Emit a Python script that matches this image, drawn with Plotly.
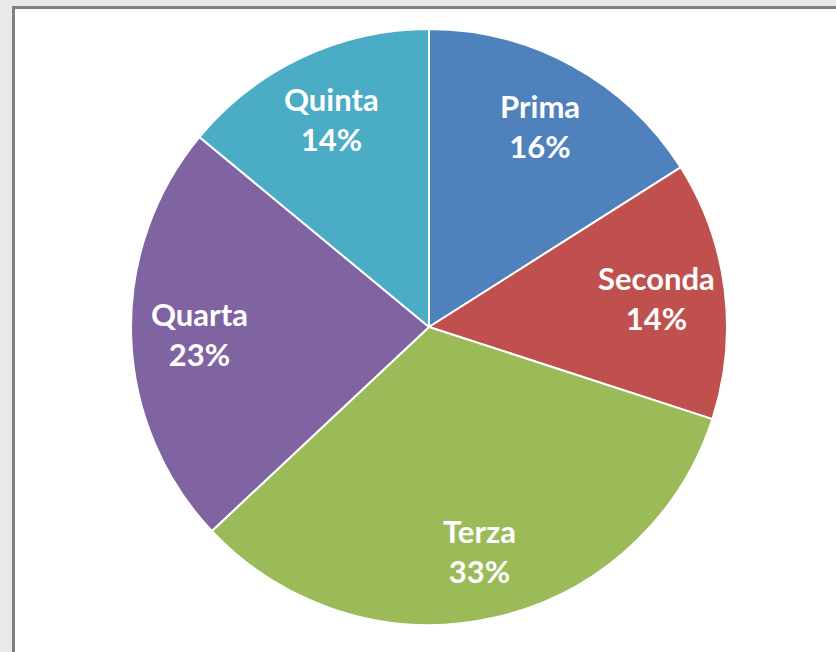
import math
import plotly.graph_objects as go

categories = ["Prima", "Seconda", "Terza", "Quarta", "Quinta"]
values = [16, 14, 33, 23, 14]
colors = ["#4F81BD", "#C0504D", "#9BBB59", "#8064A2", "#4BACC6"]

W, H = 836, 652
cx, cy, r = 429, 327, 298
label_frac = 0.77

fig = go.Figure(go.Pie(
    labels=categories,
    values=values,
    sort=False,
    direction="clockwise",
    rotation=0,
    marker=dict(colors=colors, line=dict(color="white", width=2)),
    textinfo="none",
    hoverinfo="label+percent",
    showlegend=False,
    domain=dict(x=[(cx - r) / W, (cx + r) / W], y=[(H - cy - r) / H, (H - cy + r) / H]),
))

# labels placed at the middle angle of each slice
total = sum(values)
annotations = []
cum = 0
for lab, v in zip(categories, values):
    mid = (cum + v / 2) / total * 2 * math.pi
    cum += v
    px = cx + label_frac * r * math.sin(mid)
    py = cy - label_frac * r * math.cos(mid)
    annotations.append(dict(
        x=px / W, y=1 - py / H, xref="paper", yref="paper",
        text=f"{lab}<br>{round(v / total * 100)}%",
        showarrow=False, xanchor="center", yanchor="middle",
        font=dict(family="Lato", size=31, color="white", weight="bold"),
    ))

fig.update_layout(
    width=W, height=H,
    margin=dict(l=0, r=0, t=0, b=0),
    paper_bgcolor="#e9e9e9",
    plot_bgcolor="#e9e9e9",
    annotations=annotations,
    shapes=[dict(
        type="rect", xref="paper", yref="paper",
        x0=13.5 / W, x1=1.05, y0=-0.05, y1=(H - 7.5) / H,
        fillcolor="white", line=dict(color="#808080", width=3), layer="below",
    )],
)

fig.write_html(
    "out.html",
    config={"displayModeBar": False},
    post_script="document.body.style.margin='0';document.body.style.overflow='hidden';",
)
